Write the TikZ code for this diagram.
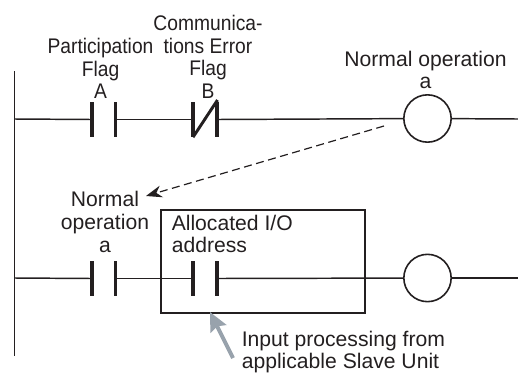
\documentclass[tikz,border=0pt]{standalone}
\usepackage{fontspec}
\setmainfont{Liberation Sans}
\newfontfamily\narrowfont[FakeStretch=0.91]{Liberation Sans}
\usepackage{xcolor}
\usepackage{tikz}
\usetikzlibrary{arrows.meta}
\definecolor{ink}{HTML}{231F20}
\definecolor{pointer}{HTML}{98A2AC}
\tikzstyle{node:bar}=[rectangle,fill=ink,inner sep=0pt,minimum width=2.5pt,minimum height=26.2pt]
\tikzstyle{node:coil}=[circle,draw=ink,line width=1.2pt,inner sep=0pt,minimum size=35.5pt]
\tikzstyle{node:label}=[text=ink,align=center,inner sep=0pt,font=\fontsize{15.85}{17}\selectfont]
\tikzstyle{node:narrowlabel}=[node:label,font=\fontsize{15.85}{17}\narrowfont]
\tikzstyle{node:block}=[rectangle,draw=ink,line width=1.3pt,inner sep=0pt,minimum width=153pt,minimum height=77pt]
\tikzstyle{draw:wire}=[draw=ink,line width=1.1pt]
\tikzstyle{draw:slash}=[draw=ink,line width=2.2pt]
\tikzstyle{draw:link}=[draw=ink,line width=0.9pt,dash pattern=on 6pt off 3.4pt,-{Stealth[length=12pt,width=9pt]}]
\tikzstyle{draw:pointer}=[draw=pointer,line width=3pt,-{Stealth[length=14pt,width=13pt,inset=2pt]}]

\begin{document}
\begin{tikzpicture}[x=0.75pt,y=-0.75pt]
        \useasboundingbox (0,0) rectangle (518,372);

        % Power rail
        \coordinate (railtop) at (14.5,71);
        \coordinate (railbottom) at (14.5,356);
        \coordinate (rail1) at (14.5,119);
        \coordinate (rail2) at (14.5,278);
        \coordinate (end1) at (518,119);
        \coordinate (end2) at (518,278);
        \draw[draw:wire,line width=1.3pt] (railtop) -- (railbottom);

        % Allocated block
        \node[node:block] (block) at (263,261.5) {};

        % Contacts
        \node[node:bar] (a1) at (92,119.5) {};
        \node[node:bar] (a2) at (115.5,119.5) {};
        \node[node:bar] (b1) at (193,119.5) {};
        \node[node:bar] (b2) at (217,119.5) {};
        \node[node:bar] (n1) at (92,278.5) {};
        \node[node:bar] (n2) at (115.5,278.5) {};
        \node[node:bar] (s1) at (193,278.5) {};
        \node[node:bar] (s2) at (217,278.5) {};
        \coordinate (slashtop) at (217.5,100);

        % Coils
        \node[node:coil] (c1) at (427.5,118.5) {};
        \node[node:coil] (c2) at (427.5,278) {};

        % Rungs
        \draw[draw:wire] (rail1) -- (a1);
        \draw[draw:wire] (a2) -- (b1);
        \draw[draw:wire] (b2) -- (c1);
        \draw[draw:wire] (c1) -- (end1);
        \draw[draw:wire] (rail2) -- (n1);
        \draw[draw:wire] (n2) -- (s1);
        \draw[draw:wire] (s2) -- (c2);
        \draw[draw:wire] (c2) -- (end2);
        \draw[draw:slash] (b1.south) -- (slashtop);

        % Labels
        \node[node:narrowlabel] (lcomm) at (208,57) {Communica-\\tions Error\\Flag\\B};
        \node[node:narrowlabel] (lpart) at (100.5,68.5) {Participation\\Flag\\A};
        \node[node:label] (lnorm) at (425.5,70) {Normal operation\\a};
        \node[node:label] (lback) at (105,222) {Normal\\operation\\a};
        \node[node:label,align=left,anchor=west] (lalloc) at (171.5,234) {Allocated I/O\\address};
        \node[node:label,align=left,anchor=west] (linput) at (241.5,352) {Input processing from\\applicable Slave Unit};

        % Arrows
        \coordinate (linkstart) at (384,126);
        \coordinate (linkend) at (146,196);
        \draw[draw:link] (linkstart) -- (linkend);
        \coordinate (ptrstart) at (233,358);
        \coordinate (ptrend) at (210,312);
        \draw[draw:pointer] (ptrstart) -- (ptrend);

    \end{tikzpicture}
\end{document}
